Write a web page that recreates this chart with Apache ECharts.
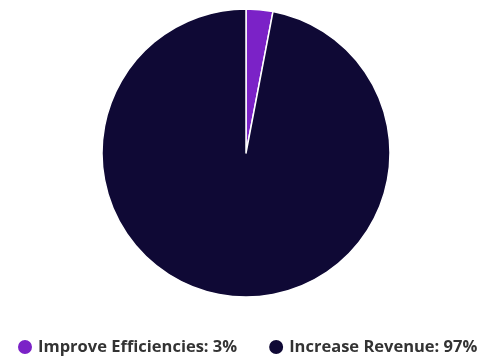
<!DOCTYPE html>
<html lang="en">
	<head>
		<meta charset="UTF-8">
		<title>Pie</title>
		<style>
			html, body { margin: 0; padding: 0; background: #fff; }
			#chart { width: 485px; height: 358px; }
		</style>
	</head>
	<body>
		<div id="chart"></div>
		<script src="https://cdn.jsdelivr.net/npm/echarts@6/dist/echarts.min.js"></script>
		<script>
			var categories = ["Improve Efficiencies", "Increase Revenue"];
			var values = [3, 97];
			var colors = ["#7b22c7", "#0f0935"];

			var chart = echarts.init(document.getElementById('chart'));
			var option = {
				animation: false,
				color: colors,
				legend: {
					top: 333,
					left: 11,
					itemGap: 30,
					icon: "circle",
					itemWidth: 16,
					itemHeight: 16,
					textStyle: {
						fontFamily: "Open Sans",
						fontWeight: "bold",
						fontSize: 16.5,
						color: "#333"
					},
					formatter: function (name) {
						var i = categories.indexOf(name);
						return name + ": " + values[i] + "%";
					},
					data: categories
				},
				series: [{
					type: "pie",
					center: [246, 153],
					radius: 144,
					startAngle: 90,
					label: { show: false },
					labelLine: { show: false },
					itemStyle: { borderColor: "#fff", borderWidth: 1.5 },
					data: categories.map(function (c, i) {
						return { name: c, value: values[i] };
					})
				}]
			};
			chart.setOption(option);
		</script>
	</body>
</html>
